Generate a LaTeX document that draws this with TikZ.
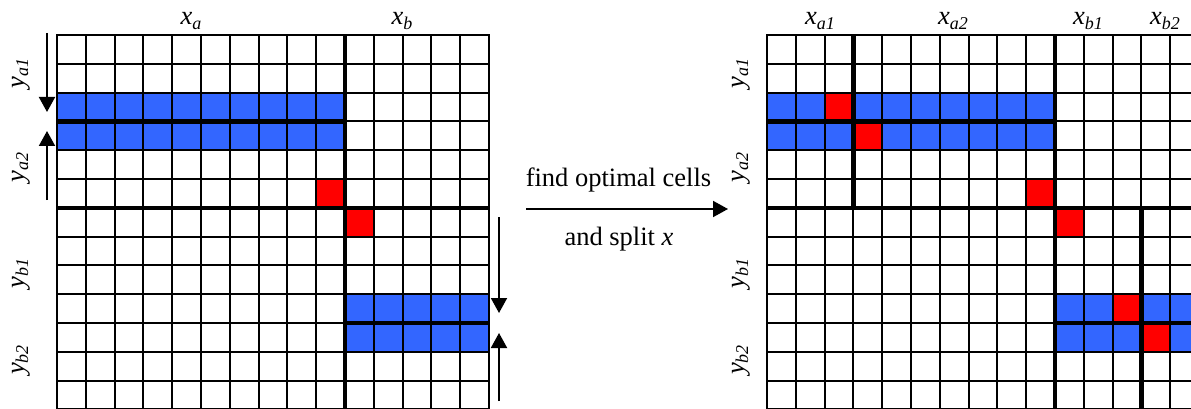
\documentclass[tikz,border=0pt]{standalone}
\usepackage{fontspec}
\setmainfont{Liberation Serif}
\usetikzlibrary{arrows.meta}
\definecolor{cellblue}{RGB}{51,102,255}
\definecolor{cellred}{RGB}{255,0,0}
\newcommand{\lbl}[2]{\textit{#1}\raisebox{-0.16em}{\fontsize{18}{18}\selectfont\textit{#2}}}
\tikzset{
  gridline/.style={line width=1.9pt, black, line cap=rect},
  splitline/.style={line width=4.5pt, black},
  bluecell/.style={fill=cellblue},
  redcell/.style={fill=cellred},
  sizearrow/.style={line width=1.9pt, -{Triangle[width=16pt,length=15pt]}},
  axislabel/.style={font=\fontsize{26.5}{30}\selectfont, inner sep=0pt, anchor=base},
  ylabel/.style={axislabel, rotate=90},
  steplabel/.style={font=\fontsize{26.5}{30}\selectfont, inner sep=0pt, anchor=base},
}
\begin{document}
\begin{tikzpicture}[x=1pt,y=-1pt]
\useasboundingbox (0,0) rectangle (1191,409);
\clip (0,0) rectangle (1191,409);
\fill[white] (0,0) rectangle (1191,409);

% ---------- left grid ----------
\begin{scope}[shift={(57,35)}, x=28.8pt, y=-28.8pt]
  \fill[bluecell] (0,2) rectangle (10,4);
  \fill[bluecell] (10,9) rectangle (15,11);
  \fill[redcell] (9,5) rectangle (10,6);
  \fill[redcell] (10,6) rectangle (11,7);
  \foreach \i in {0,...,15} \draw[gridline] (\i,0) -- (\i,14);
  \foreach \j in {0,...,14} \draw[gridline] (0,\j) -- (15,\j);
  \draw[splitline] (10,0) -- (10,14);
  \draw[splitline] (0,6) -- (15,6);
  \draw[splitline] (0,3) -- (10,3);
  \draw[splitline] (10,10) -- (15,10);
\end{scope}

% ---------- right grid ----------
\begin{scope}[shift={(767,35)}, x=28.8pt, y=-28.8pt]
  \fill[bluecell] (0,2) rectangle (10,4);
  \fill[bluecell] (10,9) rectangle (15,11);
  \fill[redcell] (2,2) rectangle (3,3);
  \fill[redcell] (3,3) rectangle (4,4);
  \fill[redcell] (9,5) rectangle (10,6);
  \fill[redcell] (10,6) rectangle (11,7);
  \fill[redcell] (12,9) rectangle (13,10);
  \fill[redcell] (13,10) rectangle (14,11);
  \foreach \i in {0,...,15} \draw[gridline] (\i,0) -- (\i,14);
  \foreach \j in {0,...,14} \draw[gridline] (0,\j) -- (15,\j);
  \draw[splitline] (10,0) -- (10,14);
  \draw[splitline] (0,6) -- (15,6);
  \draw[splitline] (0,3) -- (10,3);
  \draw[splitline] (10,10) -- (15,10);
  \draw[splitline] (3,0) -- (3,6);
  \draw[splitline] (13,6) -- (13,14);
\end{scope}

% ---------- left labels ----------
\node[axislabel] (xa) at (191,25) {\lbl{x}{a}};
\node[axislabel] (xb) at (402,25) {\lbl{x}{b}};
\node[ylabel] (ya1) at (24,73.5) {\lbl{y}{a1}};
\node[ylabel] (ya2) at (24,167.5) {\lbl{y}{a2}};
\node[ylabel] (yb1) at (24,273.5) {\lbl{y}{b1}};
\node[ylabel] (yb2) at (24,360) {\lbl{y}{b2}};

% size arrows
\coordinate (a1s) at (47,33);  \coordinate (a1e) at (47,112);
\coordinate (a2s) at (47,200); \coordinate (a2e) at (47,131);
\coordinate (b1s) at (499,217); \coordinate (b1e) at (499,313);
\coordinate (b2s) at (499,401); \coordinate (b2e) at (499,333);
\draw[sizearrow] (a1s) -- (a1e);
\draw[sizearrow] (a2s) -- (a2e);
\draw[sizearrow] (b1s) -- (b1e);
\draw[sizearrow] (b2s) -- (b2e);

% ---------- middle step ----------
\node[steplabel] (find) at (618.5,186) {find optimal cells};
\node[steplabel] (split) at (619,245) {and split \textit{x}};
\coordinate (stepstart) at (526,209);
\coordinate (stepend) at (728,209);
\draw[sizearrow] (stepstart) -- (stepend);

% ---------- right labels ----------
\node[axislabel] (xa1) at (820,25) {\lbl{x}{a1}};
\node[axislabel] (xa2) at (953,25) {\lbl{x}{a2}};
\node[axislabel] (xb1) at (1088,25) {\lbl{x}{b1}};
\node[axislabel] (xb2) at (1165,25) {\lbl{x}{b2}};
\node[ylabel] (rya1) at (744,73.5) {\lbl{y}{a1}};
\node[ylabel] (rya2) at (744,167.5) {\lbl{y}{a2}};
\node[ylabel] (ryb1) at (744,273.5) {\lbl{y}{b1}};
\node[ylabel] (ryb2) at (744,360) {\lbl{y}{b2}};
\end{tikzpicture}
\end{document}
